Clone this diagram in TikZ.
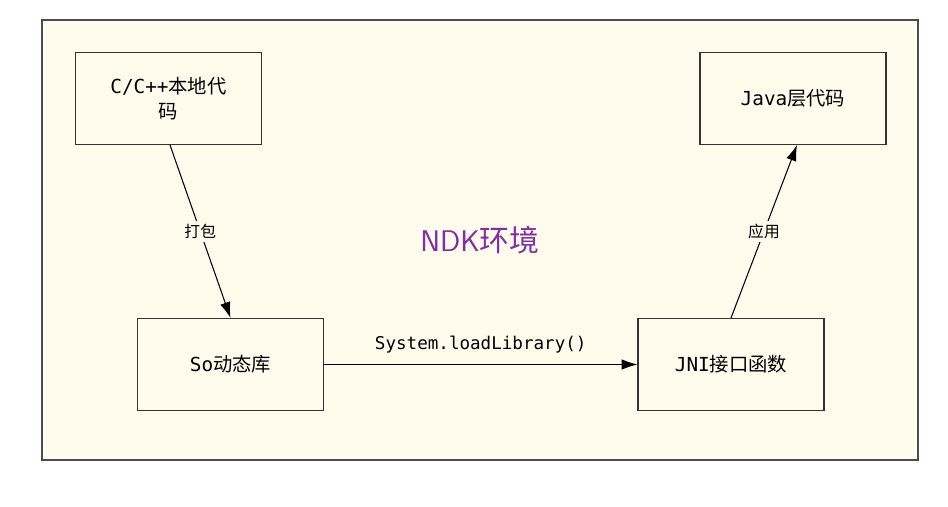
\documentclass[tikz,border=0pt]{standalone}
\usepackage{fontspec}
\setmainfont{DejaVu Sans Mono}
\newfontfamily\cjk{Noto Sans CJK SC}
\usetikzlibrary{arrows.meta,positioning}
\definecolor{cream}{RGB}{255,252,238}
\definecolor{ndkpurple}{RGB}{128,48,160}
\tikzset{
box/.style={draw=black!80,fill=cream,minimum width=3.72cm,minimum height=1.84cm,align=center,font=\fontsize{11}{14}\selectfont,line width=0.6pt},
lbl/.style={font=\fontsize{9}{11}\selectfont\cjk,fill=cream,inner sep=2pt},
conn/.style={-{Latex[length=9pt,width=6pt]},line width=0.6pt}
}
\begin{document}
\begin{tikzpicture}[x=0.02cm,y=-0.02cm]
\useasboundingbox (0,0) rectangle (948,507);
\fill[white] (0,0) rectangle (948,507);
\draw[fill=cream,draw=black!70,line width=0.6pt] (42,20) rectangle (918,460);

\node[box] (src) at (168.5,98.5) {C/C++{\cjk 本地代}\\{\cjk 码}};
\node[box] (java) at (793,98.5) {Java{\cjk 层代码}};
\node[box] (so) at (230.5,364.5) {So{\cjk 动态库}};
\node[box] (jni) at (731,364.5) {JNI{\cjk 接口函数}};
\node[font=\fontsize{17}{20}\selectfont\sffamily,text=ndkpurple] (ndk) at (480,240) {NDK{\cjk 环境}};

\coordinate (srcB) at (170,145);
\coordinate (javaB) at (797,145);
\draw[conn] (srcB) -- node[lbl] {打包} (so.north);
\draw[conn] (jni.north) -- node[lbl] {应用} (javaB);
\draw[conn] (so) -- node[above=3pt,font=\fontsize{10}{12}\selectfont] {System.loadLibrary()} (jni);
\end{tikzpicture}
\end{document}
